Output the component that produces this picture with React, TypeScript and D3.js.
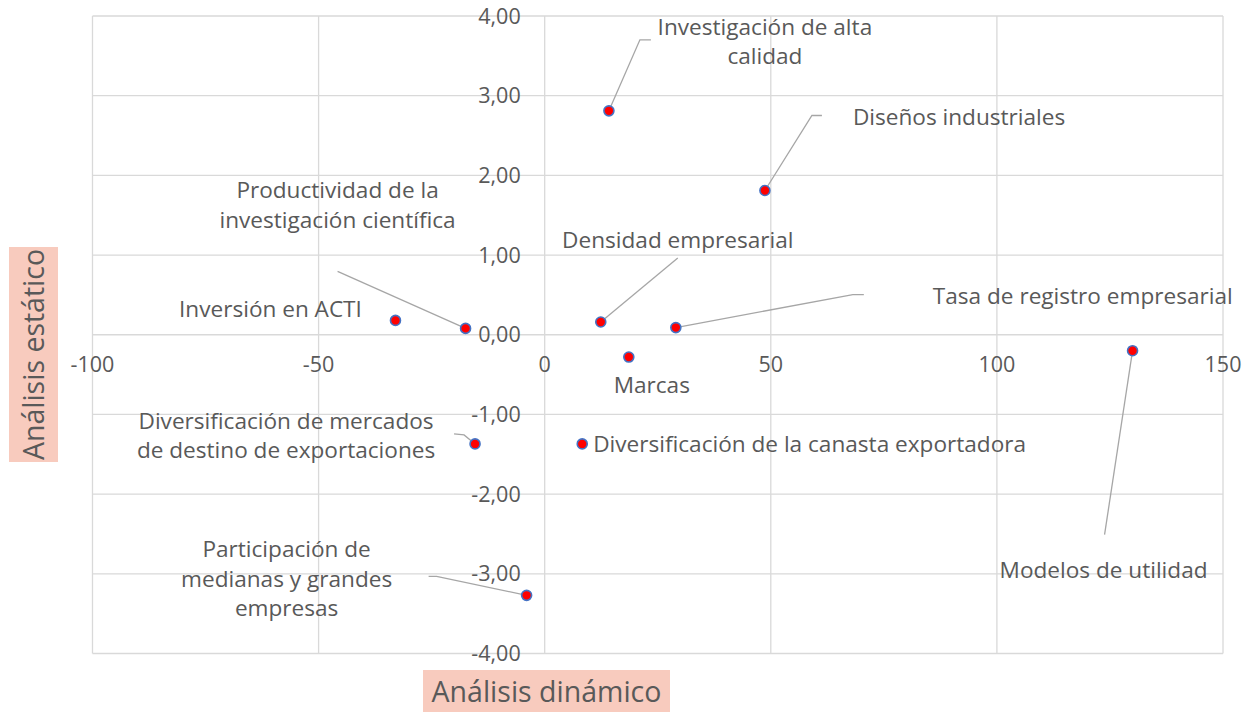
import React, { useEffect, useRef } from "react";
import * as d3 from "d3";

const names = [
  "Investigación de alta calidad",
  "Diseños industriales",
  "Productividad de la investigación científica",
  "Inversión en ACTI",
  "Densidad empresarial",
  "Tasa de registro empresarial",
  "Marcas",
  "Modelos de utilidad",
  "Diversificación de mercados de destino de exportaciones",
  "Diversificación de la canasta exportadora",
  "Participación de medianas y grandes empresas",
];
const dynamicValues = [14.2, 48.7, -17.5, -33.0, 12.4, 29.0, 18.6, 130.0, -15.4, 8.3, -4.0];
const staticValues = [2.81, 1.81, 0.08, 0.18, 0.16, 0.09, -0.28, -0.2, -1.37, -1.37, -3.27];
const xTicks = [-100, -50, 0, 50, 100, 150];
const yTicks = [-4, -3, -2, -1, 0, 1, 2, 3, 4];
const xTitle = "Análisis dinámico";
const yTitle = "Análisis estático";

// label layout (pixel offsets relative to each point)
const labelLayout: Record<string, { lines: string[]; anchor: string; dx: number; dy: number; leader?: [number, number][] }> = {
  "Investigación de alta calidad": { lines: ["Investigación de alta", "calidad"], anchor: "middle", dx: 156, dy: -84, leader: [[0, 0], [31, -71], [42, -71]] },
  "Diseños industriales": { lines: ["Diseños industriales"], anchor: "start", dx: 88, dy: -73, leader: [[0, 0], [47, -75], [57, -75]] },
  "Productividad de la investigación científica": { lines: ["Productividad de la", "investigación científica"], anchor: "middle", dx: -128, dy: -138, leader: [[0, 0], [-128, -57]] },
  "Inversión en ACTI": { lines: ["Inversión en ACTI"], anchor: "middle", dx: -125, dy: -11 },
  "Densidad empresarial": { lines: ["Densidad empresarial"], anchor: "middle", dx: 77, dy: -82, leader: [[0, 0], [77, -64]] },
  "Tasa de registro empresarial": { lines: ["Tasa de registro empresarial"], anchor: "start", dx: 257, dy: -31, leader: [[0, 0], [177, -33], [188, -33]] },
  "Marcas": { lines: ["Marcas"], anchor: "middle", dx: 23, dy: 28 },
  "Modelos de utilidad": { lines: ["Modelos de utilidad"], anchor: "middle", dx: -29, dy: 219, leader: [[0, 0], [-28, 184]] },
  "Diversificación de mercados de destino de exportaciones": { lines: ["Diversificación de mercados", "de destino de exportaciones"], anchor: "middle", dx: -189, dy: -23, leader: [[0, 0], [-11, -9], [-21, -10]] },
  "Diversificación de la canasta exportadora": { lines: ["Diversificación de la canasta exportadora"], anchor: "start", dx: 11, dy: 0 },
  "Participación de medianas y grandes empresas": { lines: ["Participación de", "medianas y grandes", "empresas"], anchor: "middle", dx: -240, dy: -46, leader: [[0, 0], [-90, -19], [-98, -19]] },
};

const FONT = "'Open Sans', Lato, sans-serif";
const TEXT = "#595959";

export default function App() {
  const ref = useRef<SVGSVGElement>(null);
  useEffect(() => {
    const svg = d3.select(ref.current);
    svg.selectAll("*").remove();
    const left = 92.5, right = 1223, top = 16, bottom = 653.5;
    const x = d3.scaleLinear().domain([-100, 150]).range([left, right]);
    const y = d3.scaleLinear().domain([-4, 4]).range([bottom, top]);
    const fmt = (v: number) => v.toFixed(2).replace(".", ",");

    const g = svg.append("g");
    // grid
    g.selectAll("line.vx").data(xTicks).join("line")
      .attr("x1", (d) => x(d)).attr("x2", (d) => x(d)).attr("y1", top).attr("y2", bottom)
      .attr("stroke", "#d9d9d9").attr("stroke-width", 1.3);
    g.selectAll("line.hy").data(yTicks).join("line")
      .attr("x1", left).attr("x2", right).attr("y1", (d) => y(d)).attr("y2", (d) => y(d))
      .attr("stroke", "#d9d9d9").attr("stroke-width", 1.3);

    // tick labels
    g.selectAll("text.yt").data(yTicks).join("text")
      .attr("x", x(0) - 24).attr("y", (d) => y(d)).attr("dy", "0.35em")
      .attr("text-anchor", "end").attr("font-family", FONT).attr("font-size", 21.5).attr("fill", TEXT)
      .text((d) => fmt(d));
    g.selectAll("text.xt").data(xTicks).join("text")
      .attr("x", (d) => x(d)).attr("y", y(0) + 30).attr("dy", "0.35em")
      .attr("text-anchor", "middle").attr("font-family", FONT).attr("font-size", 21.5).attr("fill", TEXT)
      .text((d) => String(d));

    const pts = names.map((n, i) => ({ n, px: x(dynamicValues[i]), py: y(staticValues[i]) }));
    // leaders
    pts.forEach((p) => {
      const L = labelLayout[p.n];
      if (L.leader) {
        g.append("path")
          .attr("d", d3.line()(L.leader.map(([a, b]) => [p.px + a, p.py + b]))!)
          .attr("fill", "none").attr("stroke", "#a6a6a6").attr("stroke-width", 1.3);
      }
    });
    // points
    g.selectAll("circle").data(pts).join("circle")
      .attr("cx", (d) => d.px).attr("cy", (d) => d.py).attr("r", 5)
      .attr("fill", "#ff0000").attr("stroke", "#4472c4").attr("stroke-width", 1.6);
    // labels
    pts.forEach((p) => {
      const L = labelLayout[p.n];
      const t = g.append("text").attr("font-family", FONT).attr("font-size", 22.6).attr("fill", TEXT)
        .attr("text-anchor", L.anchor);
      L.lines.forEach((line, k) => {
        t.append("tspan").attr("x", p.px + L.dx).attr("y", p.py + L.dy + k * 29.5).attr("dy", "0.35em").text(line);
      });
    });

    // axis titles
    svg.append("rect").attr("x", 9).attr("y", 247).attr("width", 49).attr("height", 215).attr("fill", "#f8cbbe");
    svg.append("text").attr("transform", "translate(34,354.5) rotate(-90)").attr("text-anchor", "middle")
      .attr("dy", "0.35em").attr("font-family", FONT).attr("font-size", 28.5).attr("fill", TEXT).text(yTitle);
    svg.append("rect").attr("x", 423).attr("y", 670).attr("width", 247).attr("height", 44).attr("fill", "#f8cbbe");
    svg.append("text").attr("x", 546.5).attr("y", 692).attr("text-anchor", "middle")
      .attr("dy", "0.35em").attr("font-family", FONT).attr("font-size", 28.5).attr("fill", TEXT).text(xTitle);
  }, []);
  return (
    <svg ref={ref} width={1252} height={712} style={{ position: "absolute", left: 0, top: 0, background: "#fff" }} />
  );
}
